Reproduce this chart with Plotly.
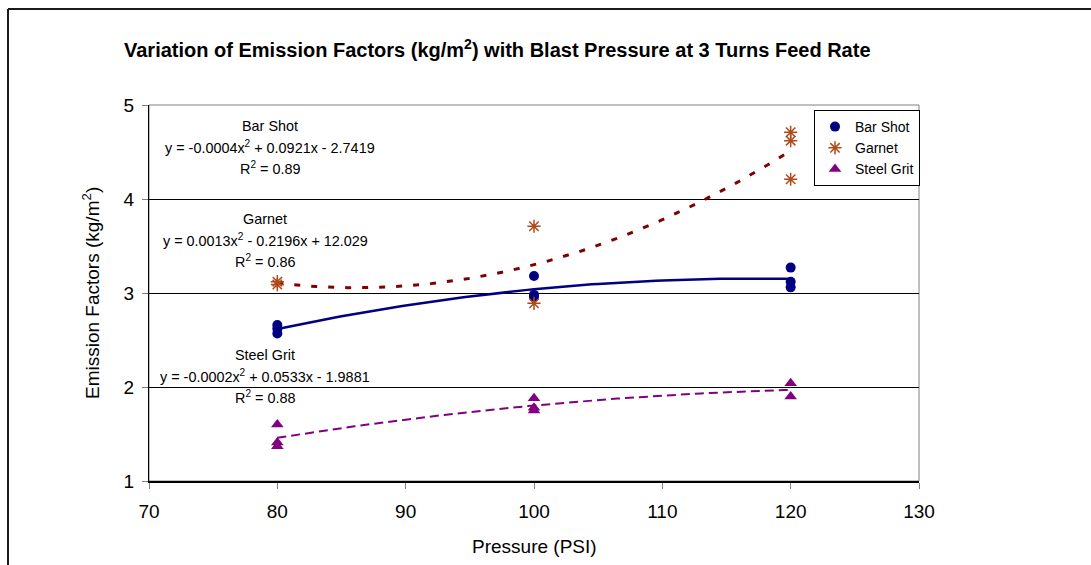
import numpy as np
import plotly.graph_objects as go

# ---- data ----
bar_x = [80, 80, 80, 100, 100, 100, 120, 120, 120]
bar_y = [2.66, 2.62, 2.57, 3.18, 2.98, 2.96, 3.27, 3.12, 3.06]

garnet_x = [80, 80, 100, 100, 120, 120, 120]
garnet_y = [3.12, 3.09, 3.71, 2.89, 4.71, 4.62, 4.21]

steel_x = [80, 80, 80, 100, 100, 100, 120, 120]
steel_y = [1.60, 1.41, 1.37, 1.88, 1.78, 1.75, 2.04, 1.90]

x_ticks = [70, 80, 90, 100, 110, 120, 130]
y_ticks = [1, 2, 3, 4, 5]

title_text = "Variation of Emission Factors (kg/m<sup>2</sup>) with Blast Pressure at 3 Turns Feed Rate"
eq_labels = [
    ("Bar Shot", "y = -0.0004x<sup>2</sup> + 0.0921x - 2.7419", "R<sup>2</sup> = 0.89"),
    ("Garnet", "y = 0.0013x<sup>2</sup> - 0.2196x + 12.029", "R<sup>2</sup> = 0.86"),
    ("Steel Grit", "y = -0.0002x<sup>2</sup> + 0.0533x - 1.9881", "R<sup>2</sup> = 0.88"),
]

NAVY = "#000080"
GARNET_M = "#B04A1A"
GARNET_L = "#800000"
PURPLE = "#800080"
FONT = "Liberation Sans, Arial, sans-serif"

# page geometry
W, H = 1091, 565
L, R, T, B = 149, 919, 105, 481


def px(xp):
    return (xp - L) / (R - L)


def py(yp):
    return (B - yp) / (B - T)


def trend(xs, ys):
    c = np.polyfit(xs, ys, 2)
    xx = np.linspace(min(xs), max(xs), 81)
    return xx, np.polyval(c, xx)


fig = go.Figure()

# trend lines
tx, ty = trend(bar_x, bar_y)
fig.add_trace(go.Scatter(x=tx, y=ty, mode="lines", showlegend=False, hoverinfo="skip",
                         line=dict(color=NAVY, width=2.5)))
tx, ty = trend(garnet_x, garnet_y)
fig.add_trace(go.Scatter(x=tx, y=ty, mode="lines", showlegend=False, hoverinfo="skip",
                         line=dict(color=GARNET_L, width=3, dash="6px,11px")))
tx, ty = trend(steel_x, steel_y)
fig.add_trace(go.Scatter(x=tx, y=ty, mode="lines", showlegend=False, hoverinfo="skip",
                         line=dict(color=PURPLE, width=2, dash="9px,5px")))

# data points
fig.add_trace(go.Scatter(x=bar_x, y=bar_y, mode="markers", name="Bar Shot",
                         marker=dict(symbol="circle", size=10, color=NAVY)))
fig.add_trace(go.Scatter(x=garnet_x, y=garnet_y, mode="markers", name="Garnet",
                         marker=dict(symbol="asterisk-open", size=11, color=GARNET_M,
                                     line=dict(color=GARNET_M, width=1.5))))
fig.add_trace(go.Scatter(x=steel_x, y=steel_y, mode="markers", name="Steel Grit",
                         marker=dict(symbol="triangle-up", size=11, color=PURPLE)))

annotations = []
annotations.append(dict(text="<b>" + title_text + "</b>", x=px(497), y=py(49),
                        xref="paper", yref="paper", showarrow=False,
                        font=dict(size=20, family=FONT, color="black"),
                        xanchor="center", yanchor="middle"))
annotations.append(dict(text="Pressure (PSI)", x=px(534), y=py(546), xref="paper", yref="paper",
                        showarrow=False, font=dict(size=19, family=FONT, color="black"),
                        xanchor="center", yanchor="middle"))
annotations.append(dict(text="Emission Factors (kg/m<sup>2</sup>)", x=px(91), y=py(293),
                        xref="paper", yref="paper", showarrow=False, textangle=-90,
                        font=dict(size=19, family=FONT, color="black"),
                        xanchor="center", yanchor="middle"))

eq_pos = [(270, [126, 147, 168]), (265, [219, 240, 261]), (265, [355, 376, 397])]
for (cx, ys), lines in zip(eq_pos, eq_labels):
    for yy, txt in zip(ys, lines):
        annotations.append(dict(text=txt, x=px(cx), y=py(yy), xref="paper", yref="paper",
                                showarrow=False, font=dict(size=14.4, family=FONT, color="black"),
                                xanchor="center", yanchor="middle"))

shapes = [
    # plot area border (gray)
    dict(type="rect", xref="paper", yref="paper", x0=0, x1=1, y0=0, y1=1,
         line=dict(color="#808080", width=1), layer="below"),
    # outer chart frame (top and left)
    dict(type="line", xref="paper", yref="paper", x0=px(8), x1=px(1095), y0=py(9), y1=py(9),
         line=dict(color="#1a1a1a", width=2)),
    dict(type="line", xref="paper", yref="paper", x0=px(8), x1=px(8), y0=py(9), y1=py(570),
         line=dict(color="#1a1a1a", width=2)),
]

fig.update_layout(
    width=W, height=H,
    margin=dict(l=L, r=W - R, t=T, b=H - B),
    paper_bgcolor="white", plot_bgcolor="white",
    font=dict(family=FONT, color="black"),
    showlegend=True,
    legend=dict(x=px(814), y=py(110), xanchor="left", yanchor="top",
                bgcolor="white", bordercolor="black", borderwidth=1,
                font=dict(size=14, family=FONT, color="black"),
                itemwidth=30, tracegroupgap=0),
    annotations=annotations,
    shapes=shapes,
    xaxis=dict(range=[70, 130], tickvals=x_ticks, showgrid=False, zeroline=False,
               showline=True, linecolor="black", linewidth=2,
               ticks="outside", ticklen=6, tickcolor="#808080", tickwidth=1,
               tickfont=dict(size=19, family=FONT, color="black"),
               ticklabelstandoff=6),
    yaxis=dict(range=[1, 5], tickvals=y_ticks, showgrid=True, gridcolor="black", gridwidth=1,
               zeroline=False, showline=True, linecolor="black", linewidth=1,
               ticks="outside", ticklen=6, tickcolor="#808080", tickwidth=1,
               tickfont=dict(size=19, family=FONT, color="black"),
               ticklabelstandoff=4),
)

fig.write_html("out.html")
